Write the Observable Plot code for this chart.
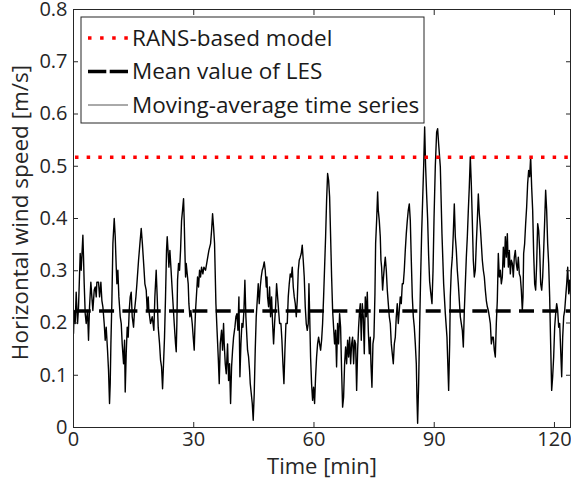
<!DOCTYPE html>
<html><head><meta charset="utf-8">
<script src="https://cdn.jsdelivr.net/npm/d3@7"></script>
<script src="https://cdn.jsdelivr.net/npm/@observablehq/plot@0.6"></script>
<style>
html,body{margin:0;padding:0;background:#fff;}
#chart{width:571px;height:481px;}
</style></head><body><div id="chart"></div>
<script>
const timeMin = [
0,0.17,0.42,0.67,1.01,1.26,1.67,1.92,2.34,2.50,2.67,2.92,3.17,3.50,3.75,4.00,4.33,4.58,4.83,5.17,5.42,5.67,5.83,6.25,6.50,6.83,7.08,7.33,7.66,7.91,8.16,8.49,8.74,8.99,9.16,9.33,9.58,9.83,10.16,10.41,10.66,10.83,11.07,11.32,11.66,11.91,12.15,12.49,12.74,12.90,13.15,13.40,13.65,13.90,14.15,14.40,14.65,14.98,15.23,15.57,15.82,16.23,16.57,16.90,17.20,17.56,17.81,18.14,18.39,18.64,18.80,19.22,19.64,20.05,20.30,20.63,20.88,21.13,21.47,21.72,21.97,22.22,22.46,22.71,22.96,23.21,23.38,23.63,23.80,24.05,24.30,24.63,24.88,25.13,25.46,25.63,25.79,25.96,26.21,26.46,26.71,26.96,27.21,27.46,27.62,27.79,27.96,28.12,28.37,28.62,28.79,29.04,29.29,29.62,29.87,30.12,30.29,30.45,30.70,30.95,31.20,31.45,31.70,31.95,32.28,32.53,32.95,33.36,33.78,34.20,34.45,34.70,34.94,35.19,35.53,35.78,36.11,36.36,36.61,36.94,37.19,37.44,37.61,37.86,38.11,38.44,38.69,38.94,39.19,39.44,39.69,39.94,40.27,40.52,40.77,41.02,41.27,41.52,41.77,42.02,42.27,42.52,42.76,43.01,43.26,43.43,43.68,43.93,44.10,44.35,44.60,44.84,45.09,45.34,45.59,45.84,46.09,46.34,46.59,46.84,47.09,47.34,47.59,47.84,48.09,48.26,48.42,48.67,48.92,49.17,49.42,49.67,49.92,50.17,50.42,50.67,50.92,51.17,51.42,51.75,52.00,52.25,52.50,52.75,53.00,53.33,53.58,53.83,54.08,54.33,54.58,54.83,55.08,55.33,55.58,55.83,56.08,56.32,56.57,56.82,57.07,57.32,57.57,57.82,58.07,58.32,58.57,58.74,58.90,59.15,59.40,59.65,59.90,60.15,60.40,60.65,60.90,61.15,61.40,61.65,61.90,62.15,62.40,62.65,62.90,63.15,63.40,63.65,63.90,64.15,64.40,64.65,64.89,65.14,65.39,65.64,65.89,66.14,66.39,66.64,66.89,67.14,67.39,67.64,67.89,68.14,68.39,68.64,68.89,69.14,69.39,69.64,69.89,70.14,70.39,70.64,70.89,71.13,71.38,71.55,71.80,72.05,72.30,72.55,72.80,73.05,73.30,73.55,73.80,74.05,74.21,74.46,74.71,74.96,75.21,75.38,75.63,75.88,76.04,76.29,76.54,76.71,76.87,77.12,77.29,77.54,77.79,78.04,78.29,78.54,78.79,79.04,79.29,79.54,79.79,80.04,80.29,80.53,80.78,81.03,81.28,81.53,81.78,82.03,82.28,82.53,82.78,83.03,83.28,83.53,83.78,84.03,84.28,84.53,84.78,85.03,85.28,85.53,85.69,85.86,86.11,86.36,86.61,86.86,87.11,87.36,87.61,87.85,88.10,88.35,88.60,88.85,89.10,89.44,89.70,89.95,90.27,90.60,90.85,91.10,91.52,91.93,92.35,92.77,93.18,93.60,93.85,94.01,94.26,94.51,94.76,95.01,95.26,95.51,95.76,96.01,96.26,96.51,96.76,97.01,97.26,97.51,97.76,98.01,98.26,98.51,98.75,99.00,99.25,99.50,99.75,100.00,100.25,100.50,100.75,101.00,101.25,101.50,101.75,102.00,102.25,102.50,102.75,103.00,103.25,103.50,103.75,104.00,104.25,104.49,104.74,104.99,105.24,105.49,105.74,105.99,106.24,106.49,106.74,106.99,107.24,107.49,107.74,107.99,108.24,108.49,108.74,108.99,109.24,109.49,109.73,109.98,110.23,110.48,110.73,110.98,111.23,111.48,111.73,111.98,112.15,112.31,112.56,112.81,113.06,113.31,113.56,113.81,114.06,114.31,114.56,114.81,115.06,115.31,115.56,115.81,116.06,116.31,116.56,116.81,117.06,117.31,117.56,117.80,118.05,118.30,118.55,118.80,119.05,119.30,119.55,119.80,120.05,120.30,120.55,120.80,121.05,121.30,121.55,121.80,122.05,122.30,122.55,122.80,123.05,123.30,123.55,123.80,124.05
];
const windSpeed = [
0.180,0.224,0.199,0.259,0.199,0.231,0.333,0.301,0.368,0.326,0.275,0.218,0.199,0.224,0.167,0.231,0.278,0.250,0.224,0.263,0.269,0.250,0.278,0.278,0.250,0.278,0.243,0.231,0.199,0.167,0.192,0.148,0.109,0.046,0.084,0.160,0.243,0.352,0.400,0.365,0.307,0.275,0.301,0.250,0.212,0.199,0.160,0.122,0.167,0.068,0.141,0.192,0.173,0.224,0.250,0.259,0.212,0.192,0.224,0.250,0.275,0.320,0.352,0.381,0.350,0.307,0.275,0.263,0.224,0.250,0.224,0.199,0.212,0.186,0.250,0.301,0.250,0.192,0.160,0.129,0.116,0.074,0.122,0.173,0.250,0.339,0.365,0.333,0.307,0.339,0.307,0.263,0.231,0.199,0.160,0.145,0.199,0.282,0.314,0.301,0.339,0.396,0.416,0.438,0.396,0.339,0.288,0.314,0.294,0.275,0.237,0.212,0.224,0.199,0.173,0.148,0.192,0.224,0.256,0.288,0.269,0.301,0.288,0.307,0.294,0.307,0.301,0.320,0.339,0.352,0.377,0.409,0.384,0.352,0.237,0.192,0.135,0.084,0.160,0.186,0.148,0.199,0.160,0.122,0.103,0.160,0.090,0.122,0.046,0.116,0.148,0.173,0.192,0.212,0.218,0.186,0.250,0.097,0.160,0.199,0.192,0.224,0.282,0.212,0.173,0.148,0.135,0.109,0.084,0.065,0.046,0.014,0.065,0.148,0.212,0.243,0.275,0.237,0.269,0.288,0.301,0.307,0.317,0.301,0.269,0.288,0.250,0.231,0.269,0.212,0.250,0.199,0.160,0.199,0.231,0.275,0.250,0.224,0.199,0.199,0.167,0.122,0.084,0.148,0.199,0.199,0.250,0.275,0.294,0.288,0.307,0.269,0.250,0.237,0.212,0.243,0.301,0.320,0.326,0.333,0.349,0.320,0.288,0.231,0.199,0.186,0.199,0.275,0.224,0.135,0.084,0.052,0.077,0.046,0.097,0.135,0.160,0.173,0.160,0.148,0.167,0.199,0.250,0.307,0.365,0.435,0.486,0.473,0.441,0.365,0.288,0.224,0.192,0.160,0.186,0.116,0.199,0.160,0.218,0.192,0.109,0.039,0.058,0.122,0.154,0.122,0.167,0.135,0.173,0.122,0.160,0.173,0.122,0.167,0.160,0.071,0.148,0.192,0.224,0.237,0.167,0.237,0.212,0.141,0.250,0.212,0.259,0.186,0.141,0.173,0.122,0.077,0.160,0.173,0.256,0.352,0.396,0.451,0.416,0.396,0.365,0.320,0.307,0.263,0.282,0.307,0.326,0.301,0.263,0.237,0.212,0.199,0.160,0.141,0.122,0.160,0.173,0.212,0.237,0.199,0.224,0.250,0.237,0.275,0.275,0.301,0.339,0.371,0.396,0.416,0.428,0.396,0.320,0.250,0.212,0.192,0.160,0.122,0.058,0.008,0.084,0.192,0.288,0.371,0.435,0.499,0.575,0.500,0.447,0.400,0.330,0.280,0.260,0.237,0.300,0.400,0.500,0.565,0.572,0.543,0.499,0.371,0.275,0.218,0.173,0.071,0.160,0.250,0.301,0.326,0.371,0.428,0.365,0.339,0.301,0.275,0.243,0.212,0.199,0.186,0.154,0.224,0.275,0.326,0.365,0.416,0.460,0.518,0.467,0.396,0.320,0.288,0.301,0.352,0.396,0.447,0.409,0.384,0.352,0.320,0.301,0.288,0.263,0.243,0.231,0.224,0.212,0.199,0.160,0.173,0.173,0.148,0.135,0.199,0.243,0.333,0.288,0.301,0.275,0.288,0.345,0.307,0.365,0.326,0.371,0.307,0.339,0.294,0.320,0.314,0.288,0.326,0.339,0.314,0.301,0.326,0.294,0.288,0.263,0.224,0.250,0.333,0.352,0.390,0.422,0.467,0.492,0.480,0.518,0.460,0.416,0.333,0.275,0.263,0.314,0.390,0.377,0.339,0.275,0.263,0.288,0.339,0.396,0.454,0.416,0.352,0.314,0.250,0.160,0.071,0.097,0.135,0.192,0.218,0.237,0.224,0.192,0.199,0.148,0.097,0.173,0.212,0.224,0.250,0.275,0.307,0.256,0.282,0.250
];
const ransValue = 0.517;
const lesMean = 0.223;
const xTicks = [0, 30, 60, 90, 120];
const yTicks = [0, 0.1, 0.2, 0.3, 0.4, 0.5, 0.6, 0.7, 0.8];
const yTickLabels = ["0", "0.1", "0.2", "0.3", "0.4", "0.5", "0.6", "0.7", "0.8"];
const xLabel = "Time [min]";
const yLabel = "Horizontal wind speed [m/s]";
const legendLabels = ["RANS-based model", "Mean value of LES", "Moving-average time series"];

const series = timeMin.map((t, i) => ({t, v: windSpeed[i]}));
const axisColor = "#262626";

const chart = Plot.plot({
  width: 571, height: 481,
  marginLeft: 73, marginRight: 1, marginTop: 9, marginBottom: 54,
  style: {fontFamily: "'Open Sans', sans-serif", fontSize: "20px", color: axisColor, background: "#fff"},
  x: {domain: [0, 124]},
  y: {domain: [0, 0.8]},
  marks: [
    Plot.lineY(series, {x: "t", y: "v", stroke: "#000", strokeWidth: 1.4, clip: true}),
    Plot.ruleY([lesMean], {stroke: "#000", strokeWidth: 3.5, strokeDasharray: "15 8.33", strokeDashoffset: 20.6}),
    Plot.ruleY([ransValue], {stroke: "#ff0000", strokeWidth: 3.5, strokeDasharray: "3.5 8.15", strokeDashoffset: 9.65}),
    Plot.frame({stroke: axisColor, strokeWidth: 1}),
    Plot.axisX(xTicks, {anchor: "bottom", tickSize: -5, fill: "none", stroke: axisColor, label: null}),
    Plot.axisX(xTicks, {anchor: "top", tickSize: -5, fill: "none", stroke: axisColor, label: null}),
    Plot.axisX(xTicks, {anchor: "bottom", tickSize: 0, tickPadding: 4, fill: axisColor, fontSize: 20, label: null}),
    Plot.axisY(yTicks, {anchor: "left", tickSize: -5, fill: "none", stroke: axisColor, label: null}),
    Plot.axisY(yTicks, {anchor: "right", tickSize: -5, fill: "none", stroke: axisColor, label: null}),
    Plot.axisY(yTicks, {anchor: "left", tickSize: 0, tickPadding: 6, fill: axisColor, fontSize: 20, label: null,
      tickFormat: d => yTickLabels[yTicks.indexOf(d)]}),
    Plot.text([xLabel], {frameAnchor: "bottom", dy: 39, lineAnchor: "middle", textAnchor: "middle", fontSize: 22, fill: axisColor}),
    Plot.text([yLabel], {frameAnchor: "left", rotate: -90, dx: -53, dy: -6, textAnchor: "middle", lineAnchor: "middle", fontSize: 22.5, fill: axisColor})
  ]
});

// legend (inside the plot area, top-left)
const svg = d3.select(chart);
const lg = svg.append("g");
lg.append("rect").attr("x", 81).attr("y", 17).attr("width", 343).attr("height", 106)
  .attr("fill", "#fff").attr("stroke", axisColor).attr("stroke-width", 1);
const rowsY = [38, 71.5, 105];
const styles = [
  {stroke: "#ff0000", width: 3.5, dash: "3.5 8.6"},
  {stroke: "#000", width: 3.5, dash: "18.3 3.4"},
  {stroke: "#555", width: 1, dash: null}
];
legendLabels.forEach((lab, i) => {
  const ln = lg.append("line").attr("x1", 88).attr("x2", 128).attr("y1", rowsY[i]).attr("y2", rowsY[i])
    .attr("stroke", styles[i].stroke).attr("stroke-width", styles[i].width);
  if (styles[i].dash) ln.attr("stroke-dasharray", styles[i].dash);
  lg.append("text").attr("x", 132).attr("y", rowsY[i]).attr("dy", "0.35em")
    .attr("text-anchor", "start")
    .attr("font-family", "'Open Sans', sans-serif").attr("font-size", 22.5).attr("fill", "#1a1a1a").text(lab);
});

document.getElementById("chart").appendChild(chart);
</script>
</body></html>
